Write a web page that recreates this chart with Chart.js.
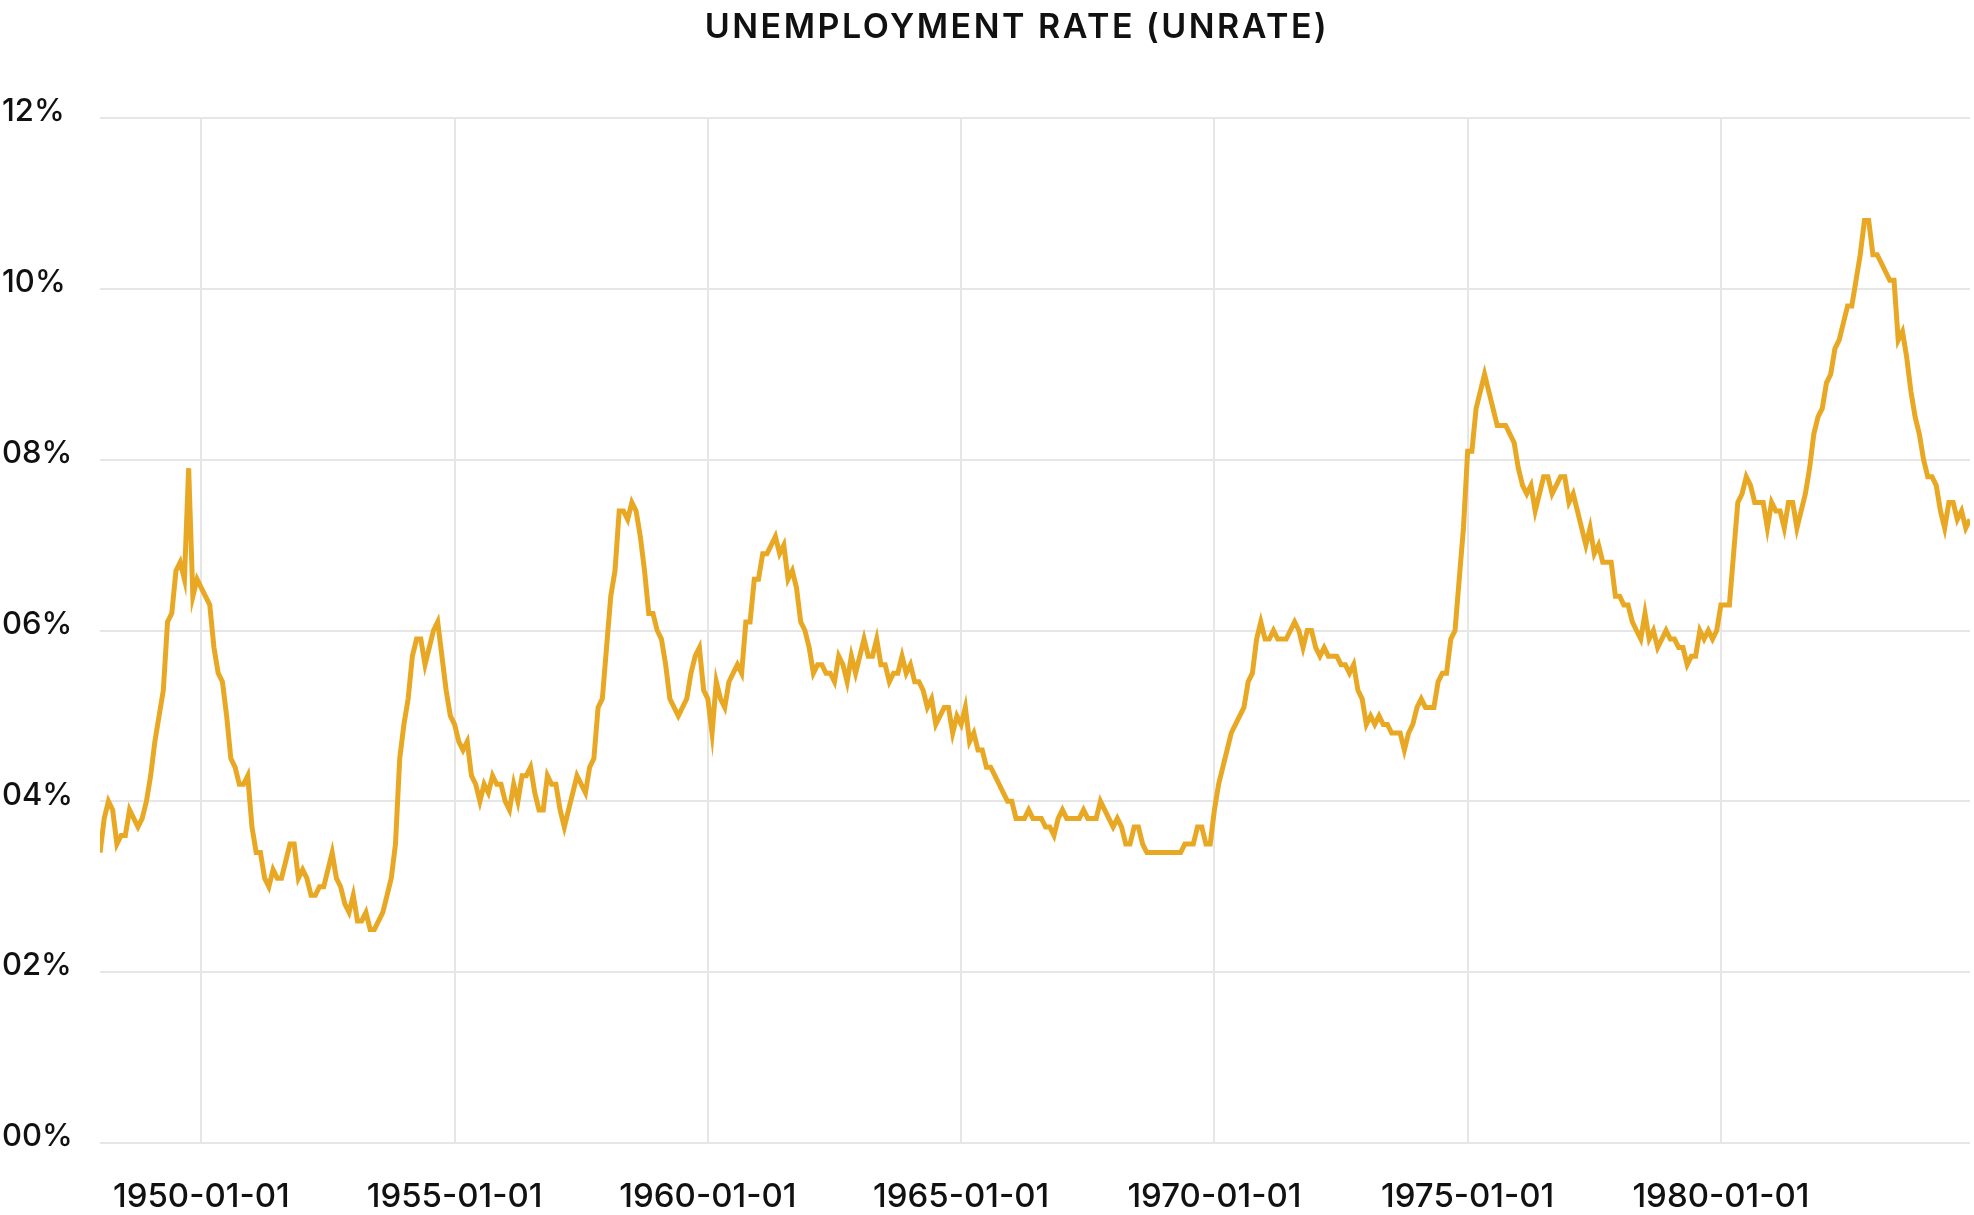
<!DOCTYPE html>
<html>
<head>
<meta charset="utf-8">
<title>Unemployment Rate (UNRATE)</title>
<script src="https://cdn.jsdelivr.net/npm/chart.js@4.4.1/dist/chart.umd.min.js"></script>
<style>
    html, body { margin: 0; padding: 0; background: #fff; }
    #wrap { width: 1974px; height: 1215px; position: relative; }
</style>
</head>
<body>
<div id="wrap"><canvas id="unrateChart"></canvas></div>
<script>
    // monthly UNRATE, Jan..Dec, one row per year
    const startYear = 1948;
    const rates1940s = [
        3.4, 3.8, 4.0, 3.9, 3.5, 3.6, 3.6, 3.9, 3.8, 3.7, 3.8, 4.0,
        4.3, 4.7, 5.0, 5.3, 6.1, 6.2, 6.7, 6.8, 6.6, 7.9, 6.4, 6.6
    ];
    const rates1950s = [
        6.5, 6.4, 6.3, 5.8, 5.5, 5.4, 5.0, 4.5, 4.4, 4.2, 4.2, 4.3,
        3.7, 3.4, 3.4, 3.1, 3.0, 3.2, 3.1, 3.1, 3.3, 3.5, 3.5, 3.1,
        3.2, 3.1, 2.9, 2.9, 3.0, 3.0, 3.2, 3.4, 3.1, 3.0, 2.8, 2.7,
        2.9, 2.6, 2.6, 2.7, 2.5, 2.5, 2.6, 2.7, 2.9, 3.1, 3.5, 4.5,
        4.9, 5.2, 5.7, 5.9, 5.9, 5.6, 5.8, 6.0, 6.1, 5.7, 5.3, 5.0,
        4.9, 4.7, 4.6, 4.7, 4.3, 4.2, 4.0, 4.2, 4.1, 4.3, 4.2, 4.2,
        4.0, 3.9, 4.2, 4.0, 4.3, 4.3, 4.4, 4.1, 3.9, 3.9, 4.3, 4.2,
        4.2, 3.9, 3.7, 3.9, 4.1, 4.3, 4.2, 4.1, 4.4, 4.5, 5.1, 5.2,
        5.8, 6.4, 6.7, 7.4, 7.4, 7.3, 7.5, 7.4, 7.1, 6.7, 6.2, 6.2,
        6.0, 5.9, 5.6, 5.2, 5.1, 5.0, 5.1, 5.2, 5.5, 5.7, 5.8, 5.3
    ];
    const rates1960s = [
        5.2, 4.8, 5.4, 5.2, 5.1, 5.4, 5.5, 5.6, 5.5, 6.1, 6.1, 6.6,
        6.6, 6.9, 6.9, 7.0, 7.1, 6.9, 7.0, 6.6, 6.7, 6.5, 6.1, 6.0,
        5.8, 5.5, 5.6, 5.6, 5.5, 5.5, 5.4, 5.7, 5.6, 5.4, 5.7, 5.5,
        5.7, 5.9, 5.7, 5.7, 5.9, 5.6, 5.6, 5.4, 5.5, 5.5, 5.7, 5.5,
        5.6, 5.4, 5.4, 5.3, 5.1, 5.2, 4.9, 5.0, 5.1, 5.1, 4.8, 5.0,
        4.9, 5.1, 4.7, 4.8, 4.6, 4.6, 4.4, 4.4, 4.3, 4.2, 4.1, 4.0,
        4.0, 3.8, 3.8, 3.8, 3.9, 3.8, 3.8, 3.8, 3.7, 3.7, 3.6, 3.8,
        3.9, 3.8, 3.8, 3.8, 3.8, 3.9, 3.8, 3.8, 3.8, 4.0, 3.9, 3.8,
        3.7, 3.8, 3.7, 3.5, 3.5, 3.7, 3.7, 3.5, 3.4, 3.4, 3.4, 3.4,
        3.4, 3.4, 3.4, 3.4, 3.4, 3.5, 3.5, 3.5, 3.7, 3.7, 3.5, 3.5
    ];
    const rates1970s = [
        3.9, 4.2, 4.4, 4.6, 4.8, 4.9, 5.0, 5.1, 5.4, 5.5, 5.9, 6.1,
        5.9, 5.9, 6.0, 5.9, 5.9, 5.9, 6.0, 6.1, 6.0, 5.8, 6.0, 6.0,
        5.8, 5.7, 5.8, 5.7, 5.7, 5.7, 5.6, 5.6, 5.5, 5.6, 5.3, 5.2,
        4.9, 5.0, 4.9, 5.0, 4.9, 4.9, 4.8, 4.8, 4.8, 4.6, 4.8, 4.9,
        5.1, 5.2, 5.1, 5.1, 5.1, 5.4, 5.5, 5.5, 5.9, 6.0, 6.6, 7.2,
        8.1, 8.1, 8.6, 8.8, 9.0, 8.8, 8.6, 8.4, 8.4, 8.4, 8.3, 8.2,
        7.9, 7.7, 7.6, 7.7, 7.4, 7.6, 7.8, 7.8, 7.6, 7.7, 7.8, 7.8,
        7.5, 7.6, 7.4, 7.2, 7.0, 7.2, 6.9, 7.0, 6.8, 6.8, 6.8, 6.4,
        6.4, 6.3, 6.3, 6.1, 6.0, 5.9, 6.2, 5.9, 6.0, 5.8, 5.9, 6.0,
        5.9, 5.9, 5.8, 5.8, 5.6, 5.7, 5.7, 6.0, 5.9, 6.0, 5.9, 6.0
    ];
    const rates1980s = [
        6.3, 6.3, 6.3, 6.9, 7.5, 7.6, 7.8, 7.7, 7.5, 7.5, 7.5, 7.2,
        7.5, 7.4, 7.4, 7.2, 7.5, 7.5, 7.2, 7.4, 7.6, 7.9, 8.3, 8.5,
        8.6, 8.9, 9.0, 9.3, 9.4, 9.6, 9.8, 9.8, 10.1, 10.4, 10.8, 10.8,
        10.4, 10.4, 10.3, 10.2, 10.1, 10.1, 9.4, 9.5, 9.2, 8.8, 8.5, 8.3,
        8.0, 7.8, 7.8, 7.7, 7.4, 7.2, 7.5, 7.5, 7.3, 7.4, 7.2, 7.3
    ];

    const tickYears = [1950, 1955, 1960, 1965, 1970, 1975, 1980];
    const xTickLabels = ['1950-01-01', '1955-01-01', '1960-01-01', '1965-01-01', '1970-01-01', '1975-01-01', '1980-01-01'];
    const yTickValues = [0, 2, 4, 6, 8, 10, 12];
    const yTickLabels = ['00%', '02%', '04%', '06%', '08%', '10%', '12%'];

    const titleText = 'UNEMPLOYMENT RATE (UNRATE)';
    const lineColor = '#e8a823';
    const gridColor = '#e6e6e6';
    const inkColor = '#111111';

    const unrate = [...rates1940s, ...rates1950s, ...rates1960s, ...rates1970s, ...rates1980s];
    const points = unrate.map((v, i) => ({ x: i, y: v }));

    // title drawn by hand so it can carry letter spacing
    const spacedTitle = {
        id: 'spacedTitle',
        afterDraw(chart) {
            const ctx = chart.ctx;
            ctx.save();
            ctx.font = '600 34px Inter';
            ctx.fillStyle = inkColor;
            ctx.textAlign = 'center';
            ctx.textBaseline = 'alphabetic';
            ctx.letterSpacing = '2.5px';
            ctx.fillText(titleText, 1017, 38);
            ctx.restore();
        }
    };

    const ctx = document.getElementById('unrateChart').getContext('2d');

    new Chart(ctx, {
        type: 'line',
        data: {
            datasets: [{
                label: 'UNRATE',
                data: points,
                borderColor: lineColor,
                borderWidth: 5,
                pointRadius: 0,
                tension: 0,
                fill: false
            }]
        },
        options: {
            responsive: true,
            maintainAspectRatio: false,
            animation: false,
            layout: {
                padding: { top: 118, left: 2, right: 4, bottom: 0 }
            },
            plugins: {
                legend: { display: false },
                title: { display: false },
                tooltip: { enabled: false }
            },
            scales: {
                x: {
                    type: 'linear',
                    min: 0,
                    max: unrate.length - 1,
                    afterBuildTicks: (scale) => {
                        scale.ticks = tickYears.map(y => ({ value: (y - startYear) * 12 }));
                    },
                    afterFit: (scale) => {
                        scale.height = 72;
                    },
                    grid: {
                        color: gridColor,
                        lineWidth: 2,
                        drawTicks: false
                    },
                    border: { display: false },
                    ticks: {
                        autoSkip: false,
                        maxRotation: 0,
                        padding: 34,
                        color: inkColor,
                        font: { family: 'Inter', size: 33, weight: '500' },
                        callback: function (value) {
                            const idx = tickYears.indexOf(startYear + value / 12);
                            return idx >= 0 ? xTickLabels[idx] : '';
                        }
                    }
                },
                y: {
                    min: 0,
                    max: 12,
                    afterBuildTicks: (scale) => {
                        scale.ticks = yTickValues.map(v => ({ value: v }));
                    },
                    afterFit: (scale) => {
                        scale.width = 98;
                    },
                    grid: {
                        color: gridColor,
                        lineWidth: 2,
                        drawTicks: false
                    },
                    border: { display: false },
                    ticks: {
                        crossAlign: 'far',
                        labelOffset: -6,
                        color: inkColor,
                        font: { family: 'Inter', size: 31, weight: '500' },
                        callback: function (value) {
                            const idx = yTickValues.indexOf(value);
                            return idx >= 0 ? yTickLabels[idx] : '';
                        }
                    }
                }
            }
        },
        plugins: [spacedTitle]
    });
</script>
</body>
</html>
